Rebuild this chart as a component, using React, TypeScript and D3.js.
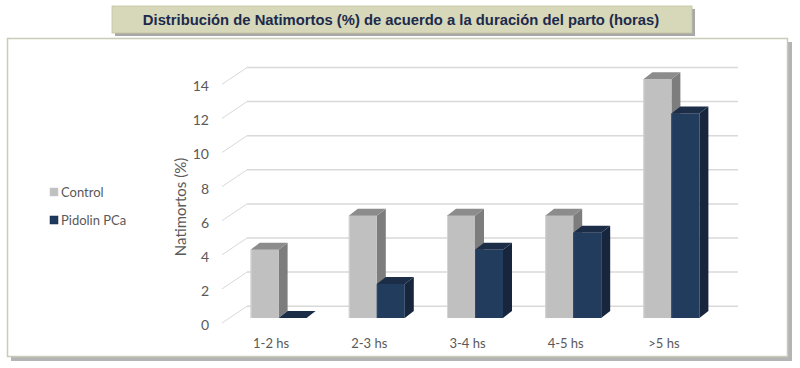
import * as d3 from 'd3';
import { useEffect, useRef } from 'react';

const categories = ['1-2 hs', '2-3 hs', '3-4 hs', '4-5 hs', '>5 hs'];
const controlValues = [4, 6, 6, 6, 14];
const pidolinValues = [0, 2, 4, 5, 12];
const yTicks = [0, 2, 4, 6, 8, 10, 12, 14];
const seriesNames = ['Control', 'Pidolin PCa'];

const FONT = 'Lato, "Open Sans", sans-serif';

export default function App() {
  const ref = useRef<SVGSVGElement | null>(null);

  useEffect(() => {
    if (!ref.current) return;
    const svg = d3.select(ref.current);
    svg.selectAll('*').remove();

    const width = 800;
    const height = 368;
    svg.attr('viewBox', `0 0 ${width} ${height}`);

    // outer panel with shadow
    svg.append('rect').attr('x', 11).attr('y', 42).attr('width', 781).attr('height', 319).attr('fill', '#b4b4b4');
    svg.append('rect').attr('x', 7.5).attr('y', 38.5).attr('width', 780).attr('height', 318)
      .attr('fill', '#fff').attr('stroke', '#c9ccb9').attr('stroke-width', 1.5);

    // title box
    svg.append('rect').attr('x', 115).attr('y', 9).attr('width', 580).attr('height', 27).attr('fill', '#a8a8a8');
    svg.append('rect').attr('x', 112).attr('y', 6).attr('width', 580).attr('height', 27)
      .attr('fill', '#d7d7b9').attr('stroke', '#c4c4a4').attr('stroke-width', 0.8);
    svg.append('text').attr('x', 401).attr('y', 25).attr('text-anchor', 'middle')
      .attr('font-family', 'Arial, "Liberation Sans", sans-serif').attr('font-weight', 'bold')
      .attr('font-size', 14.8).attr('fill', '#1c2a4c')
      .text('Distribución de Natimortos (%) de acuerdo a la duración del parto (horas)');

    // front plane scales
    const x0 = 222;
    const x = d3.scaleBand<string>().domain(categories).range([x0, x0 + 491]);
    const y = d3.scaleLinear().domain([0, 14]).range([323, 84.3]);
    const wall = { dx: 25, dy: -16.8 };
    const barOff = { dx: 7.5, dy: -5 };
    const depth = { dx: 9, dy: -7 };
    const barW = 28;

    // gridlines: diagonal on floor-side + back wall
    const grid = svg.append('g');
    yTicks.forEach((t) => {
      grid.append('line').attr('x1', x0).attr('y1', y(t)).attr('x2', x0 + wall.dx).attr('y2', y(t) + wall.dy)
        .attr('stroke', '#d9d9d9').attr('stroke-width', 1);
      grid.append('line').attr('x1', x0 + wall.dx).attr('y1', y(t) + wall.dy)
        .attr('x2', x0 + 491 + wall.dx).attr('y2', y(t) + wall.dy)
        .attr('stroke', '#d9d9d9').attr('stroke-width', 1.5);
    });

    // y tick labels
    svg.append('g').selectAll('text').data(yTicks).enter().append('text')
      .attr('x', 209).attr('y', (d) => y(d) + 2).attr('dy', '0.35em').attr('text-anchor', 'end')
      .attr('font-family', FONT).attr('font-size', 14).attr('fill', '#595959').text((d) => d);

    // y axis title
    svg.append('text').attr('transform', 'translate(186,207) rotate(-90)').attr('text-anchor', 'middle')
      .attr('font-family', FONT).attr('font-size', 15).attr('fill', '#595959').text('Natimortos (%)');

    // category labels
    svg.append('g').selectAll('text').data(categories).enter().append('text')
      .attr('x', (d) => (x(d) || 0) + x.bandwidth() / 2).attr('y', 343).attr('dy', '0.35em')
      .attr('text-anchor', 'middle').attr('font-family', FONT).attr('font-size', 13).attr('fill', '#595959')
      .text((d) => d);

    const styles = [
      { front: '#c0c0c0', top: '#8c8c8c', side: '#7d7d7d', edge: '#d4d4d4' },
      { front: '#223c5e', top: '#1c2d48', side: '#17263d', edge: '#2c4a70' },
    ];

    const drawBar = (g: any, left: number, v: number, s: typeof styles[0]) => {
      const bx = left;
      const by0 = y(0) + barOff.dy;
      const by1 = y(v) + barOff.dy;
      const pts = (p: number[][]) => p.map((q) => q.join(',')).join(' ');
      if (v > 0) {
        g.append('polygon').attr('points', pts([
          [bx + barW, by1], [bx + barW + depth.dx, by1 + depth.dy],
          [bx + barW + depth.dx, by0 + depth.dy], [bx + barW, by0],
        ])).attr('fill', s.side);
        g.append('rect').attr('x', bx).attr('y', by1).attr('width', barW).attr('height', by0 - by1).attr('fill', s.front);
        g.append('line').attr('x1', bx + 0.5).attr('x2', bx + 0.5).attr('y1', by1).attr('y2', by0)
          .attr('stroke', s.edge).attr('stroke-width', 1);
      }
      g.append('polygon').attr('points', pts([
        [bx, by1], [bx + depth.dx, by1 + depth.dy], [bx + barW + depth.dx, by1 + depth.dy], [bx + barW, by1],
      ])).attr('fill', s.top);
    };

    const bars = svg.append('g');
    categories.forEach((c, i) => {
      const center = (x(c) || 0) + x.bandwidth() / 2 + barOff.dx;
      drawBar(bars, center - barW, controlValues[i], styles[0]);
      drawBar(bars, center, pidolinValues[i], styles[1]);
    });

    // legend
    const legend = svg.append('g');
    seriesNames.forEach((n, i) => {
      const ly = 192 + i * 28;
      legend.append('rect').attr('x', 50).attr('y', ly - 4).attr('width', 8).attr('height', 8)
        .attr('fill', i === 0 ? '#c0c0c0' : '#1f3a5f').attr('stroke', i === 0 ? '#c8c8c8' : '#14253d').attr('stroke-width', 0.5);
      legend.append('text').attr('x', 61).attr('y', ly).attr('dy', '0.35em')
        .attr('font-family', FONT).attr('font-size', 13).attr('fill', '#595959').text(n);
    });
  }, []);

  return <svg ref={ref} width={800} height={368} style={{ display: 'block', position: 'absolute', left: 0, top: 0 }} />;
}
